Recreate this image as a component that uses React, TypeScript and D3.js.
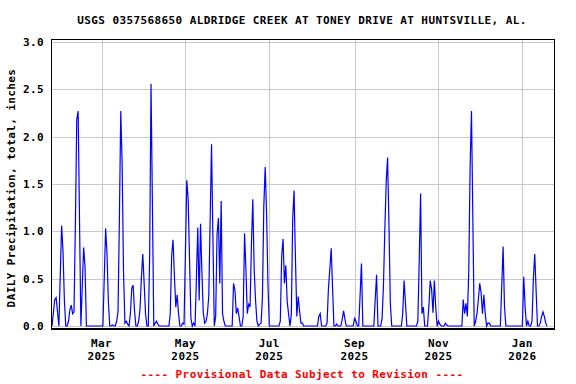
import React from "react";
import * as d3 from "d3";

const titleText = "USGS 0357568650 ALDRIDGE CREEK AT TONEY DRIVE AT HUNTSVILLE, AL.";
const yAxisLabel = "DAILY Precipitation, total, inches";
const footerText = "---- Provisional Data Subject to Revision ----";

// first daily value date, and x-domain
const startDate = "2025-01-24";
const domainStart = "2025-01-24";
const domainEnd = "2026-01-24";

// daily precipitation totals (inches), one per day from startDate
const precipValues: number[] = [
  0, 0.14, 0.28, 0.30, 0.15, 0, 0.53, 1.06, 0.79, 0.27,
  0, 0, 0.05, 0.17, 0.22, 0.13, 0.15, 1.07, 2.18, 2.27,
  1.13, 0, 0.42, 0.83, 0.63, 0, 0, 0, 0, 0,
  0, 0, 0, 0, 0, 0, 0, 0, 0.51, 1.03,
  0.76, 0.25, 0, 0, 0.01, 0, 0, 0.05, 0.15, 1.13,
  2.27, 1.70, 0.57, 0.03, 0.05, 0.02, 0, 0.13, 0.40, 0.43,
  0.16, 0, 0, 0.05, 0.18, 0.51, 0.76, 0.45, 0.13, 0,
  0, 0.73, 2.56, 1.29, 0, 0.03, 0.05, 0.02, 0, 0,
  0, 0, 0, 0, 0, 0, 0.13, 0.74, 0.91, 0.53,
  0.20, 0.33, 0.13, 0, 0, 0.03, 0.02, 0.77, 1.54, 1.34,
  0.71, 0.08, 0, 0.03, 0, 0.51, 1.04, 0.27, 1.08, 0.57,
  0.14, 0.03, 0.05, 0.13, 0.32, 1.13, 1.92, 0.93, 0, 0.10,
  0.97, 1.14, 0.45, 1.32, 0.13, 0.05, 0, 0, 0, 0,
  0, 0, 0.45, 0.38, 0.13, 0.19, 0.10, 0, 0, 0.10,
  0.98, 0.60, 0.13, 0.23, 0.20, 0.86, 1.34, 0.60, 0.27, 0.05,
  0, 0.02, 0.03, 0.30, 1.26, 1.68, 1.20, 0.45, 0, 0,
  0, 0, 0, 0, 0, 0, 0.05, 0.74, 0.92, 0.45,
  0.64, 0.26, 0.13, 0, 0.12, 1.13, 1.43, 0.72, 0.10, 0.31,
  0.16, 0.03, 0.03, 0, 0, 0, 0, 0, 0, 0,
  0, 0, 0, 0, 0.10, 0.13, 0, 0, 0, 0,
  0.03, 0.40, 0.60, 0.82, 0.40, 0, 0, 0.02, 0, 0,
  0, 0.07, 0.16, 0.07, 0, 0, 0, 0, 0, 0,
  0.08, 0.05, 0, 0, 0.32, 0.66, 0, 0, 0, 0,
  0, 0, 0, 0, 0, 0.28, 0.54, 0, 0, 0,
  0.08, 0.43, 1.02, 1.52, 1.78, 1.07, 0.24, 0, 0, 0,
  0, 0, 0, 0, 0, 0.13, 0.48, 0.24, 0, 0,
  0, 0, 0, 0, 0, 0, 0.05, 0.69, 1.40, 0.13,
  0.20, 0, 0, 0, 0.20, 0.48, 0.39, 0.14, 0.48, 0.20,
  0, 0.05, 0.02, 0, 0, 0, 0.03, 0.01, 0, 0,
  0, 0, 0, 0, 0, 0, 0, 0, 0, 0.28,
  0.13, 0.24, 0.10, 0.56, 1.68, 2.27, 1.12, 0, 0.05, 0.13,
  0.28, 0.45, 0.35, 0.13, 0.33, 0.13, 0, 0.03, 0.03, 0,
  0, 0, 0, 0, 0, 0, 0, 0.42, 0.84, 0.20,
  0, 0, 0, 0, 0, 0, 0, 0, 0, 0,
  0, 0, 0, 0.52, 0.20, 0, 0.05, 0, 0, 0.05,
  0.50, 0.76, 0.37, 0, 0, 0.03, 0.10, 0.15, 0.10, 0.03,
  0,
];

const xTickDates = ["2025-03-01", "2025-05-01", "2025-07-01", "2025-09-01", "2025-11-01", "2026-01-01"];
const xTickMonths = ["Mar", "May", "Jul", "Sep", "Nov", "Jan"];
const xTickYears = ["2025", "2025", "2025", "2025", "2025", "2026"];
const yTickValues = [0, 0.5, 1.0, 1.5, 2.0, 2.5, 3.0];
const yTickLabels = ["0.0", "0.5", "1.0", "1.5", "2.0", "2.5", "3.0"];

const parse = (s: string) => {
  const [y, m, d] = s.split("-").map(Number);
  return new Date(y, m - 1, d);
};

export default function App() {
  const W = 576;
  const H = 384;
  const left = 52;
  const right = 554;
  const top = 39.5;
  const bottom = 329;

  const x = d3.scaleTime().domain([parse(domainStart), parse(domainEnd)]).range([left, right]);
  const y = d3.scaleLinear().domain([0, 3]).range([326, 42]);

  const start = parse(startDate);
  const data = precipValues.map((v, i) => ({ date: d3.timeDay.offset(start, i), v }));
  const line = d3
    .line<{ date: Date; v: number }>()
    .x((d) => x(d.date))
    .y((d) => y(d.v));

  const font = "'DejaVu Sans Mono', 'Liberation Mono', monospace";
  const textStyle: React.CSSProperties = { fontFamily: font, fontWeight: "bold", fontSize: 11, letterSpacing: 0.4 };

  return (
    <svg width={W} height={H} style={{ position: "absolute", left: 0, top: 0, background: "#fff" }}>
      <rect x={0} y={0} width={W} height={H} fill="#fff" />
      <text x={302} y={24} textAnchor="middle" style={textStyle} fill="#000">
        {titleText}
      </text>
      {/* grid */}
      <g shapeRendering="crispEdges" stroke="#c8c8c8" strokeWidth={1}>
        {yTickValues.map((v) => (
          <line key={"gy" + v} x1={left} x2={right} y1={Math.round(y(v)) + 0.5} y2={Math.round(y(v)) + 0.5} />
        ))}
        {xTickDates.map((d) => {
          const xx = Math.round(x(parse(d))) + 0.5;
          return <line key={"gx" + d} x1={xx} x2={xx} y1={top} y2={bottom} />;
        })}
      </g>
      {/* data line */}
      <path d={line(data) || ""} fill="none" stroke="#0000ff" strokeWidth={1.2} strokeLinejoin="miter" />
      {/* frame */}
      <g shapeRendering="crispEdges" fill="none" stroke="#000">
        <rect x={left - 0.5} y={top} width={right - left + 0.5} height={bottom - top} strokeWidth={1} />
        <line x1={left - 1} x2={right} y1={bottom} y2={bottom} strokeWidth={2} />
      </g>
      {/* y tick labels */}
      {yTickValues.map((v, i) => (
        <text key={"yl" + v} x={44} y={y(v) + 4} textAnchor="end" style={textStyle} fill="#000">
          {yTickLabels[i]}
        </text>
      ))}
      {/* x tick labels */}
      {xTickDates.map((d, i) => {
        const xx = x(parse(d));
        return (
          <g key={"xl" + d}>
            <text x={xx} y={346.5} textAnchor="middle" style={textStyle} fill="#000">
              {xTickMonths[i]}
            </text>
            <text x={xx} y={360} textAnchor="middle" style={textStyle} fill="#000">
              {xTickYears[i]}
            </text>
          </g>
        );
      })}
      <text
        transform={`translate(15,188) rotate(-90)`}
        textAnchor="middle"
        style={textStyle}
        fill="#000"
      >
        {yAxisLabel}
      </text>
      <text x={302} y={378} textAnchor="middle" style={textStyle} fill="#ff0000">
        {footerText}
      </text>
    </svg>
  );
}
